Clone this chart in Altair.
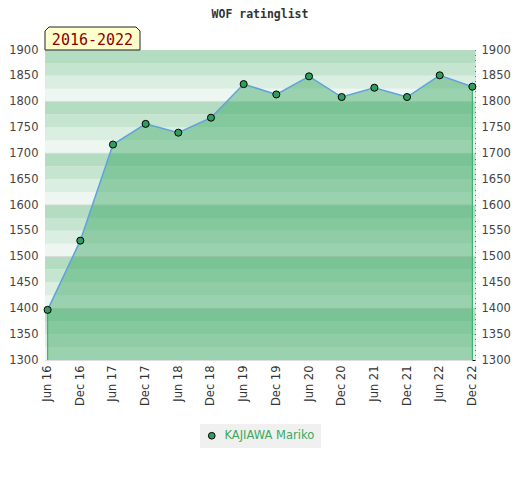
import altair as alt
import pandas as pd

# ---- data ----
labels = ["Jun 16", "Dec 16", "Jun 17", "Dec 17", "Jun 18", "Dec 18", "Jun 19",
          "Dec 19", "Jun 20", "Dec 20", "Jun 21", "Dec 21", "Jun 22", "Dec 22"]
ratings = [1397, 1531, 1717, 1757, 1740, 1769, 1834, 1814, 1849, 1809, 1827, 1809, 1851, 1829]
player = "KAJIAWA Mariko"
period = "2016-2022"
title_text = "WOF ratinglist"

band_lo = list(range(1300, 1900, 25))
band_hi = [v + 25 for v in band_lo]
band_shade = [i % 4 for i in range(len(band_lo))]
grid_values = [1400, 1500, 1600, 1700, 1800]
left_ticks = list(range(1300, 1901, 50))
right_ticks = list(range(1300, 1901, 10))

df = pd.DataFrame({"label": labels, "rating": ratings, "name": [player] * len(labels),
                   "idx": list(range(len(labels)))})
bands = pd.DataFrame({"lo": band_lo, "hi": band_hi, "shade": band_shade})
grid = pd.DataFrame({"g": grid_values})

W, H = 430, 310
ydom = alt.Scale(domain=[1300, 1900], nice=False, zero=False)
left_axis = alt.Axis(values=left_ticks, ticks=False, domain=False,
                     labelPadding=7, labelFontSize=11.5, labelColor="#444",
                     labelFont="DejaVu Sans", grid=False, title=None, format="d",
                     labelOverlap=False)
xenc = alt.X("label:O", sort=labels, scale=alt.Scale(type="point", padding=0.08),
             axis=alt.Axis(labelAngle=270, ticks=False, domain=False, labelPadding=5,
                           title=None, labelFontSize=11.5, labelColor="#333",
                           labelFont="DejaVu Sans", labelOverlap=False))


def yl(field):
    return alt.Y(field, scale=ydom, axis=left_axis)


stripes = alt.Chart(bands).mark_rect().encode(
    x=alt.value(0), x2=alt.value(W),
    y=yl("lo:Q"),
    y2="hi:Q",
    fill=alt.Fill("shade:O", scale=alt.Scale(domain=[0, 1, 2, 3],
                  range=["#eef6f1", "#dbeee2", "#c6e5d1", "#b3dcc0"]), legend=None),
)

gridlines = alt.Chart(grid).mark_rule(color="#d6d6d6", strokeWidth=1).encode(
    y=yl("g:Q")
)

area = alt.Chart(df).mark_area(color="#2fa35a", opacity=0.44).encode(
    x=xenc, y=yl("rating:Q"), y2=alt.datum(1300)
)

edges = alt.Chart(df).transform_filter("datum.idx == 0 || datum.idx == 13").mark_rule(
    color="#3cb371", strokeWidth=1.2).encode(
    x=xenc, y=yl("rating:Q"), y2=alt.datum(1300)
)

line = alt.Chart(df).mark_line(color="#5fa2dd", strokeWidth=1.5).encode(
    x=xenc, y=yl("rating:Q")
)

points = alt.Chart(df).mark_point(filled=True, stroke="black", strokeWidth=1,
                                  size=50, opacity=1).encode(
    x=xenc, y=yl("rating:Q"),
    color=alt.Color("name:N", scale=alt.Scale(range=["#2e9e5a"]),
                    legend=alt.Legend(orient="none", legendX=155, legendY=374,
                                      direction="horizontal", title=None,
                                      fillColor="#f0f0f0", padding=6,
                                      symbolType="circle", symbolSize=45,
                                      symbolStrokeColor="black", symbolStrokeWidth=1,
                                      symbolOpacity=1,
                                      labelColor="#3aaa5e", labelFontSize=11.5,
                                      labelFont="DejaVu Sans", labelOffset=7)),
)

box_df = pd.DataFrame({"period": [period]})
box_shape = "M-1,0.242 L-1,-0.158 L-0.916,-0.242 L0.916,-0.242 L1,-0.158 L1,0.242 Z"
box = alt.Chart(box_df).mark_point(shape=box_shape, filled=True, fill="#ffffcc",
                                   stroke="#222", strokeWidth=1, size=9025,
                                   opacity=1).encode(
    x=alt.value(47.5), y=alt.value(-11.5)
)
box_text = alt.Chart(box_df).mark_text(font="DejaVu Sans Mono", fontSize=15,
                                       color="#8b0000", baseline="middle",
                                       align="center").encode(
    x=alt.value(47.5), y=alt.value(-10.5), text="period:N"
)

title_df = pd.DataFrame({"t": [title_text]})
title = alt.Chart(title_df).mark_text(font="DejaVu Sans Mono", fontSize=11.5,
                                      fontWeight="bold", color="#333",
                                      baseline="middle", align="center").encode(
    x=alt.value(W / 2), y=alt.value(-35), text="t:N"
)

main = alt.layer(stripes, gridlines, area, edges, line, points, box, box_text, title)

right = alt.Chart(df).mark_point(opacity=0).encode(
    x=xenc,
    y=alt.Y("rating:Q", scale=ydom,
            axis=alt.Axis(orient="right", values=right_ticks,
                          labelExpr="datum.value % 50 == 0 ? datum.label : ''",
                          format="d", tickSize=3, tickColor="black", tickWidth=1,
                          domain=False, offset=-3, labelPadding=6, grid=False,
                          title=None, labelFontSize=11.5, labelColor="#444",
                          labelFont="DejaVu Sans", labelOverlap=False)),
)

chart = alt.layer(main, right).resolve_scale(y="independent").properties(
    width=W, height=H,
    autosize=alt.AutoSizeParams(type="none"),
    padding={"left": 37, "top": 42, "right": 36, "bottom": 90},
).configure_view(stroke="#d4d4d4", strokeWidth=1.5).configure(background="white")

chart.save("out.html", embed_options={"renderer": "svg", "actions": False})
